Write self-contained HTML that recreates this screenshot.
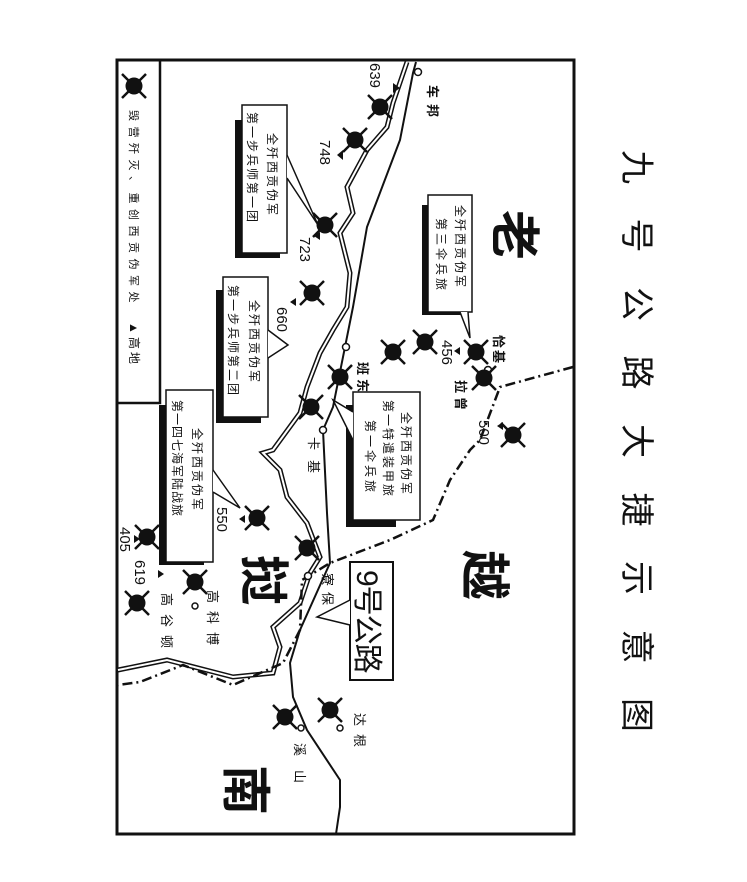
<!DOCTYPE html>
<html><head><meta charset="utf-8">
<style>
html,body{margin:0;padding:0;background:#fff;}
svg{display:block;}
text{font-family:"Liberation Sans","Noto Sans CJK SC",sans-serif;fill:#111;}
.b{font-weight:bold;}
</style></head><body>
<svg width="747" height="882" viewBox="0 0 747 882" xmlns="http://www.w3.org/2000/svg">
<defs>
<g id="m">
 <line x1="-12" y1="-12" x2="12" y2="12" stroke="#111" stroke-width="2.5"/>
 <line x1="-12" y1="12" x2="12" y2="-12" stroke="#111" stroke-width="2.5"/>
 <circle r="8.5" fill="#111"/>
</g>
</defs>
<rect width="747" height="882" fill="#fff"/>
<rect x="117" y="60" width="457" height="774" fill="none" stroke="#111" stroke-width="3"/>
<rect x="117" y="60" width="43" height="343" fill="none" stroke="#111" stroke-width="2.5"/>
<use href="#m" x="134" y="86"/>
<text font-size="11" transform="translate(130,110) rotate(90)" letter-spacing="5.5">毁营歼灭、重创西贡伪军处</text>
<text font-size="12" transform="translate(130,322) rotate(90)" letter-spacing="3">▲高地</text>

<text font-size="34" transform="translate(625,150) rotate(90)" letter-spacing="34.5">九号公路大捷示意图</text>

<path d="M416,62 L413,73 L400,140 L367,227 L353,307 L333,407 L323,430 L327,513 L330,563 L300,630 L290,663 L293,697 L307,730 L340,780 L340,807 L336,834" fill="none" stroke="#111" stroke-width="2"/>
<path id="rv" d="M407,62 L393,103 L387,127 L367,150 L347,187 L353,213 L340,233 L350,273 L347,307 L333,330 L320,353 L307,387 L300,413 L273,450 L263,453 L280,470 L287,497 L307,523 L320,557 L310,573 L300,603 L273,627 L280,647 L273,673 L233,677 L167,660 L118,670" fill="none" stroke="#111" stroke-width="5"/>
<path d="M407,62 L393,103 L387,127 L367,150 L347,187 L353,213 L340,233 L350,273 L347,307 L333,330 L320,353 L307,387 L300,413 L273,450 L263,453 L280,470 L287,497 L307,523 L320,557 L310,573 L300,603 L273,627 L280,647 L273,673 L233,677 L167,660 L118,670" fill="none" stroke="#fff" stroke-width="2"/>
<path d="M573,367 L500,387 L480,440 L470,450 L450,480 L433,520 L390,540 L330,563 L302,580 L300,630 L283,663 L233,685 L183,665 L140,682 L118,685" fill="none" stroke="#111" stroke-width="2.5" stroke-dasharray="10,4,2,4"/>

<g fill="#fff" stroke="#111" stroke-width="1.5">
<circle cx="418" cy="72" r="3.5"/><circle cx="346" cy="347" r="3.5"/><circle cx="323" cy="430" r="3.5"/>
<circle cx="488" cy="370" r="3.5"/><circle cx="308" cy="576" r="3.5"/>
<circle cx="195" cy="606" r="3"/><circle cx="301" cy="728" r="3"/><circle cx="340" cy="728" r="3"/>
</g>

<g>
<use href="#m" x="380" y="107"/><use href="#m" x="355" y="140"/><use href="#m" x="325" y="225"/>
<use href="#m" x="312" y="293"/><use href="#m" x="311" y="407"/><use href="#m" x="476" y="352"/>
<use href="#m" x="425" y="342"/><use href="#m" x="393" y="352"/><use href="#m" x="484" y="378"/>
<use href="#m" x="340" y="377"/><use href="#m" x="513" y="435"/><use href="#m" x="257" y="518"/>
<use href="#m" x="147" y="537"/><use href="#m" x="307" y="548"/><use href="#m" x="195" y="582"/>
<use href="#m" x="137" y="603"/><use href="#m" x="285" y="717"/><use href="#m" x="330" y="710"/>
</g>
<g fill="#111">
<path d="M393,83 l7,5 l-7,5z"/>
<path d="M343,150 l-6,5 l6,5z"/>
<path d="M320,232 l-6,4 l6,4z"/>
<path d="M296,298 l-6,4 l6,4z"/><path d="M460,347 l-6,4 l6,4z"/><path d="M503,422 l-6,4 l6,4z"/>
<path d="M245,515 l-6,4 l6,4z"/><path d="M134,535 l6,4 l-6,4z"/><path d="M158,570 l6,4 l-6,4z"/>
</g>

<g font-size="15">
<text transform="translate(370,63) rotate(90)">639</text>
<text transform="translate(320,140) rotate(90)">748</text>
<text transform="translate(300,237) rotate(90)">723</text>
<text transform="translate(277,307) rotate(90)">660</text>
<text transform="translate(442,340) rotate(90)">456</text>
<text transform="translate(479,420) rotate(90)">500</text>
<text transform="translate(217,507) rotate(90)">550</text>
<text transform="translate(120,527) rotate(90)">405</text>
<text transform="translate(135,560) rotate(90)">619</text>
</g>

<g font-size="13">
<text class="b" transform="translate(428,85) rotate(90)" letter-spacing="6">车邦</text>
<text class="b" transform="translate(494,335) rotate(90)" letter-spacing="2">恰基</text>
<text class="b" transform="translate(456,380) rotate(90)" letter-spacing="4">拉曾</text>
<text class="b" transform="translate(358,362) rotate(90)" letter-spacing="4">班东</text>
<text transform="translate(309,437) rotate(90)" letter-spacing="10">卡基</text>
<text transform="translate(323,573) rotate(90)" letter-spacing="6">寮保</text>
<text transform="translate(208,590) rotate(90)" letter-spacing="8">高科博</text>
<text transform="translate(162,593) rotate(90)" letter-spacing="8">高谷顿</text>
<text transform="translate(355,713) rotate(90)" letter-spacing="8">达根</text>
<text transform="translate(295,743) rotate(90)" letter-spacing="14">溪山</text>
</g>

<g font-size="50">
<text class="b" transform="translate(497,210) rotate(90)">老</text>
<text class="b" transform="translate(467,550) rotate(90)">越</text>
<text class="b" transform="translate(246,555) rotate(90)">挝</text>
<text class="b" transform="translate(228,765) rotate(90)">南</text>
</g>

<g stroke="#111" stroke-width="1.5">
<rect x="235" y="120" width="45" height="138" fill="#111" stroke="none"/>
<rect x="242" y="105" width="45" height="148" fill="#fff"/>
<path d="M287,155 L318,225 L287,178" fill="#fff"/>
<rect x="216" y="290" width="45" height="133" fill="#111" stroke="none"/>
<rect x="223" y="277" width="45" height="140" fill="#fff"/>
<path d="M268,330 L288,345 L268,358" fill="#fff"/>
<rect x="422" y="205" width="45" height="110" fill="#111" stroke="none"/>
<rect x="428" y="195" width="44" height="117" fill="#fff"/>
<path d="M460,312 L470,338 L468,312" fill="#fff"/>
<rect x="346" y="405" width="50" height="122" fill="#111" stroke="none"/>
<rect x="353" y="392" width="67" height="128" fill="#fff"/>
<path d="M353,412 L333,400 L353,440" fill="#fff"/>
<rect x="159" y="405" width="45" height="160" fill="#111" stroke="none"/>
<rect x="166" y="390" width="47" height="172" fill="#fff"/>
<path d="M213,470 L240,508 L213,492" fill="#fff"/>
<rect x="350" y="562" width="43" height="118" fill="#fff" stroke-width="2"/>
<path d="M350,600 L317,617 L350,625" fill="#fff"/>
</g>
<g font-size="12">
<text transform="translate(268,133) rotate(90)" letter-spacing="2">全歼西贡伪军</text>
<text transform="translate(248,112) rotate(90)" letter-spacing="2">第一步兵师第一团</text>
<text transform="translate(250,300) rotate(90)" letter-spacing="2">全歼西贡伪军</text>
<text transform="translate(229,285) rotate(90)" letter-spacing="2">第一步兵师第二团</text>
<text transform="translate(456,205) rotate(90)" letter-spacing="2">全歼西贡伪军</text>
<text transform="translate(437,218) rotate(90)" letter-spacing="3">第三伞兵旅</text>
<text transform="translate(402,412) rotate(90)" letter-spacing="2">全歼西贡伪军</text>
<text transform="translate(384,400) rotate(90)" letter-spacing="2">第一特遣装甲旅</text>
<text transform="translate(366,420) rotate(90)" letter-spacing="3">第一伞兵旅</text>
<text transform="translate(193,428) rotate(90)" letter-spacing="2">全歼西贡伪军</text>
<text transform="translate(173,400) rotate(90)" letter-spacing="1">第一四七海军陆战旅</text>
</g>
<text font-size="30" transform="translate(357,570) rotate(90)" letter-spacing="-1">9号公路</text>
</svg>
</body></html>
